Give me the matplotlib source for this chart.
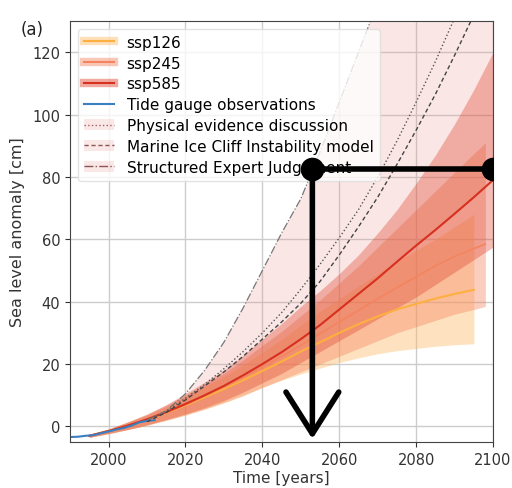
#!/usr/bin/env python

import numpy as np
import matplotlib
matplotlib.use('Agg')
import matplotlib.pyplot as plt
from matplotlib.lines import Line2D
from matplotlib.patches import Patch

# projections (cm)
years_126 = [1995, 2000, 2005, 2010, 2015, 2020, 2025, 2030, 2035, 2040, 2045,
             2050, 2055, 2060, 2065, 2070, 2075, 2080, 2085, 2090, 2095]
ssp126_med = [-3.0, -1.5, 0.3, 2.2, 4.4, 6.8, 9.4, 12.0, 14.8, 17.8, 20.8,
              24.0, 27.0, 30.0, 32.8, 35.3, 37.5, 39.3, 41.0, 42.5, 43.8]
ssp126_hi = [-2.5, -0.8, 1.3, 3.6, 6.4, 9.5, 12.8, 16.0, 19.8, 23.8, 28.0,
             32.5, 37.0, 41.0, 45.0, 49.0, 53.0, 56.5, 60.0, 64.0, 68.0]
ssp126_lo = [-3.5, -2.3, -1.0, 0.4, 2.0, 3.6, 5.5, 7.5, 9.8, 12.5, 14.8,
             16.8, 18.7, 20.5, 22.0, 23.3, 24.3, 25.0, 25.7, 26.2, 26.5]

years_245 = [1995, 2000, 2005, 2010, 2015, 2020, 2025, 2030, 2035, 2040, 2045,
             2050, 2055, 2060, 2065, 2070, 2075, 2080, 2085, 2090, 2095, 2098]
ssp245_med = [-3.0, -1.5, 0.3, 2.2, 4.5, 7.0, 9.8, 12.7, 15.8, 19.0, 22.5,
              26.0, 29.8, 33.5, 37.2, 41.0, 44.5, 48.0, 51.5, 54.5, 57.0, 58.5]
ssp245_hi = [-2.5, -0.8, 1.4, 3.8, 6.8, 10.0, 13.5, 17.0, 21.3, 26.0, 30.5,
             35.5, 40.5, 46.0, 51.5, 57.5, 63.5, 69.5, 75.5, 81.5, 87.5, 91.0]
ssp245_lo = [-3.5, -2.3, -1.0, 0.4, 2.0, 3.7, 5.6, 7.7, 10.0, 12.5, 15.0,
             17.5, 20.0, 22.5, 25.0, 27.5, 30.0, 32.0, 34.0, 36.0, 37.5, 38.5]

years_585 = [1995, 2000, 2005, 2010, 2015, 2020, 2025, 2030, 2035, 2040, 2045,
             2050, 2055, 2060, 2065, 2070, 2075, 2080, 2085, 2090, 2095, 2100]
ssp585_med = [-3.0, -1.5, 0.3, 2.3, 4.6, 7.2, 10.0, 13.0, 16.4, 20.0, 23.8,
              28.0, 32.5, 37.5, 42.5, 47.5, 52.8, 58.0, 63.0, 68.2, 73.5, 79.0]
ssp585_hi = [-2.5, -0.8, 1.5, 4.0, 7.0, 10.5, 14.2, 18.0, 22.8, 28.0, 33.0,
             38.5, 43.5, 49.0, 55.0, 62.0, 69.5, 78.0, 87.0, 97.0, 108.0, 120.0]
ssp585_lo = [-3.5, -2.3, -1.0, 0.5, 2.2, 4.0, 6.0, 8.3, 11.0, 14.0, 17.0,
             20.5, 24.0, 27.5, 31.0, 34.5, 38.0, 41.5, 45.5, 49.5, 53.5, 57.5]

# tide gauge record
tg_years = [1990, 1992, 1994, 1996, 1998, 2000, 2002, 2004, 2006, 2008, 2010, 2012]
tg_level = [-3.4, -3.3, -3.0, -2.8, -2.2, -1.6, -1.0, -0.5, 0.3, 1.3, 1.8, 2.0]

# high-end estimates
hi_years = [2010, 2015, 2020, 2025, 2030, 2035, 2040, 2045, 2050, 2055, 2060,
            2065, 2070, 2075, 2080, 2085, 2090, 2095, 2100]
phys_ev = [2.0, 5.0, 9.0, 13.5, 18.5, 24.0, 30.0, 36.5, 44.0, 52.0, 60.5,
           69.5, 80.0, 91.5, 104.0, 117.0, 131.0, 145.0, 160.0]
mici = [1.5, 4.5, 8.5, 13.0, 17.5, 22.5, 28.0, 33.5, 39.5, 46.5, 55.0,
        64.0, 73.5, 84.0, 95.0, 106.5, 119.0, 132.0, 146.0]
sej = [2.0, 5.0, 10.5, 18.0, 27.0, 38.0, 50.0, 62.0, 73.0, 88.0, 104.0,
       120.0, 136.0, 152.0, 168.0, 184.0, 200.0, 216.0, 232.0]
sej_floor = [2.0, 4.6, 7.2, 10.0, 13.0, 16.4, 20.0, 23.8, 28.0, 32.5, 37.5,
             42.5, 47.5, 52.8, 58.0, 63.0, 68.2, 73.5, 79.0]

# hand-drawn pointer on the figure
pick_year = 2053
pick_level = 82.5
pick_end = 2100

c126 = '#fdb863'
c245 = '#f4845f'
c585 = '#e0402a'
cpink = '#e8908a'

fig = plt.figure(figsize=(5.12, 4.89), dpi=100)
ax = fig.add_axes([0.137, 0.094, 0.826, 0.861])

ax.fill_between(hi_years, sej_floor, sej, color=cpink, alpha=0.22, lw=0)

ax.fill_between(years_126, ssp126_lo, ssp126_hi, color=c126, alpha=0.4, lw=0)
ax.fill_between(years_245, ssp245_lo, ssp245_hi, color=c245, alpha=0.4, lw=0)
ax.fill_between(years_585, ssp585_lo, ssp585_hi, color=c585, alpha=0.35, lw=0)

ax.plot(years_126, ssp126_med, color='#fdb040', lw=1.5)
ax.plot(years_245, ssp245_med, color='#f4845f', lw=1.2)
ax.plot(years_585, ssp585_med, color='#d7301f', lw=1.5)
ax.plot(tg_years, tg_level, color='#3a7fc0', lw=1.5)

ax.plot(hi_years, phys_ev, color='#555555', lw=1.0, ls=':')
ax.plot(hi_years, mici, color='#444444', lw=1.0, ls='--', dashes=(3, 2))
ax.plot(hi_years, sej, color='#777777', lw=0.9, ls='-.')

ax.set_xlim(1990, 2100)
ax.set_ylim(-5, 130)
ax.set_xticks([2000, 2020, 2040, 2060, 2080, 2100])
ax.set_yticks([0, 20, 40, 60, 80, 100, 120])
ax.grid(True, color='#cccccc', lw=1.0)
ax.set_axisbelow(True)
ax.tick_params(labelsize=10.5, colors='#333333')
for s in ax.spines.values():
    s.set_color('#444444')
ax.set_xlabel('Time [years]', fontsize=11, color='#333333', labelpad=2)
ax.set_ylabel('Sea level anomaly [cm]', fontsize=11.5, color='#333333', labelpad=5)

handles = [
    (Line2D([], [], color=c126, lw=6, alpha=0.45), Line2D([], [], color='#fdb040', lw=1.5)),
    (Line2D([], [], color=c245, lw=6, alpha=0.45), Line2D([], [], color='#f4845f', lw=1.5)),
    (Line2D([], [], color=c585, lw=6, alpha=0.45), Line2D([], [], color='#d7301f', lw=1.5)),
    Line2D([], [], color='#3a7fc0', lw=1.5),
    (Patch(color=cpink, alpha=0.2, lw=0), Line2D([], [], color='#a06060', lw=1.0, ls=':')),
    (Patch(color=cpink, alpha=0.2, lw=0), Line2D([], [], color='#8a5555', lw=1.0, ls='--', dashes=(3, 2))),
    (Patch(color=cpink, alpha=0.2, lw=0), Line2D([], [], color='#8a5555', lw=1.0, ls='-.')),
]
labels = ['ssp126', 'ssp245', 'ssp585', 'Tide gauge observations',
          'Physical evidence discussion', 'Marine Ice Cliff Instability model',
          'Structured Expert Judgement']
lgd = ax.legend(handles, labels, loc='upper left', fontsize=11, labelspacing=0.38,
                handlelength=2.0, borderpad=0.4, framealpha=0.8)
lgd.get_frame().set_edgecolor('#dddddd')

# the black pointer drawn over the chart
ax.plot([pick_year, pick_end], [pick_level, pick_level], color='black', lw=4,
        marker='o', ms=16, solid_capstyle='butt', zorder=10)
ax.annotate('', xy=(pick_year, -4), xytext=(pick_year, pick_level),
            arrowprops=dict(arrowstyle='->, head_length=1.5, head_width=0.95',
                            lw=4, color='black', shrinkA=0, shrinkB=0,
                            mutation_scale=20),
            zorder=10)

fig.text(0.04, 0.928, '(a)', fontsize=12, color='#222222')

plt.savefig('out.png', dpi=100)
